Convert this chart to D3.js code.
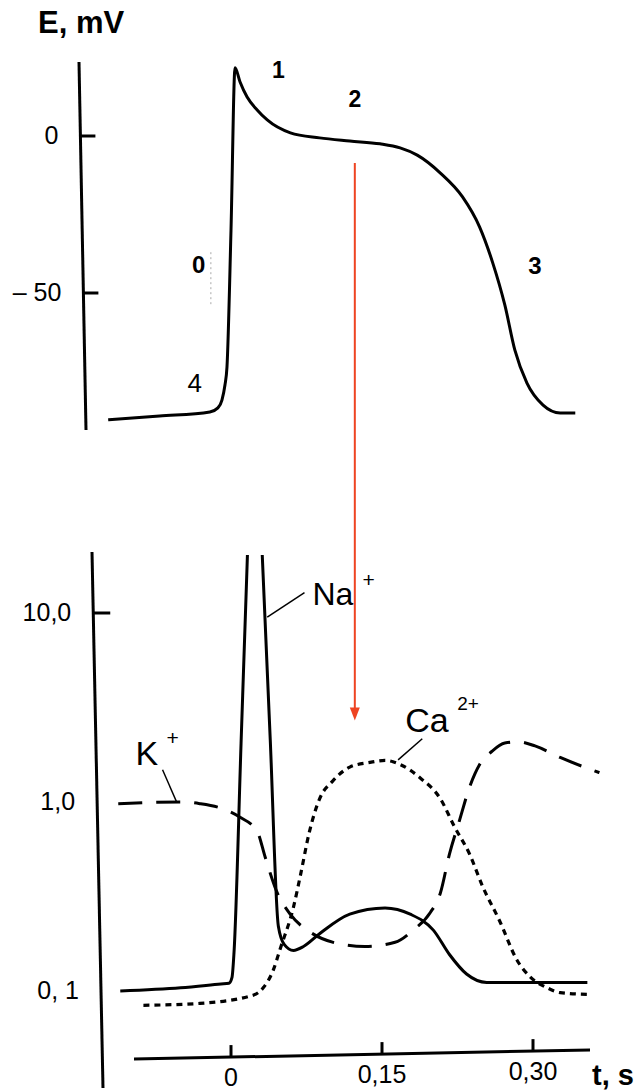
<!DOCTYPE html>
<html>
<head>
<meta charset="utf-8">
<script src="https://cdn.jsdelivr.net/npm/d3@7"></script>
<style>
  body { margin: 0; background: #fff; }
  svg { display: block; font-family: "Liberation Sans", Arial, sans-serif; }
</style>
</head>
<body>
<svg id="chart" width="634" height="1091"></svg>
<script>
// action potential, E in mV against t in s
const apT = [-0.122, -0.071, -0.021, -0.013, -0.009, -0.006, -0.004, 0.000, 0.004, 0.009, 0.016, 0.026, 0.036, 0.059, 0.088, 0.118, 0.148, 0.168, 0.185, 0.208, 0.230, 0.247, 0.260, 0.272, 0.282, 0.294, 0.310, 0.327, 0.342];
const apE = [-90.4, -89.2, -87.9, -86.6, -84.1, -79.3, -73.6, -30, 21.7, 17.2, 12.4, 8.3, 5.1, 1.0, -0.6, -1.6, -2.5, -3.8, -6.1, -11.8, -19.4, -29.0, -40.4, -53.8, -68.2, -78.7, -85.7, -88.2, -88.2];

// ion permeabilities (log scale)
const naT = [-0.110, -0.050, -0.010, -0.002, 0.001, 0.003, 0.010, 0.016, 0.023, 0.031, 0.039, 0.047, 0.053, 0.062, 0.072, 0.088, 0.118, 0.153, 0.178, 0.201, 0.217, 0.234, 0.254, 0.354];
const naG = [0.100, 0.104, 0.109, 0.110, 0.118, 0.16, 2.05, 18, 207, 20.5, 2.13, 0.221, 0.176, 0.164, 0.172, 0.201, 0.255, 0.275, 0.255, 0.21, 0.156, 0.123, 0.111, 0.111];

const kT = [-0.112, -0.048, -0.031, -0.008, 0.009, 0.026, 0.034, 0.045, 0.059, 0.078, 0.103, 0.133, 0.163, 0.181, 0.198, 0.208, 0.217, 0.227, 0.237, 0.247, 0.259, 0.272, 0.286, 0.302, 0.327, 0.366];
const kG = [0.98, 1.0, 0.98, 0.92, 0.83, 0.70, 0.51, 0.34, 0.254, 0.206, 0.18, 0.172, 0.181, 0.21, 0.26, 0.33, 0.53, 0.80, 1.2, 1.58, 1.85, 2.05, 2.08, 1.98, 1.72, 1.43];

const caT = [-0.087, -0.031, 0.022, 0.032, 0.042, 0.049, 0.062, 0.069, 0.078, 0.088, 0.101, 0.118, 0.138, 0.153, 0.168, 0.188, 0.208, 0.222, 0.237, 0.250, 0.267, 0.284, 0.297, 0.314, 0.327, 0.354];
const caG = [0.084, 0.086, 0.095, 0.104, 0.129, 0.168, 0.277, 0.41, 0.70, 1.04, 1.29, 1.53, 1.62, 1.66, 1.58, 1.34, 1.04, 0.74, 0.53, 0.357, 0.234, 0.146, 0.119, 0.104, 0.098, 0.096];

const mvTicks = [0, -50];
const gTicks = [10, 1, 0.1];
const gTickLabels = ['10,0', '1,0', '0, 1'];
const tTicks = [0, 0.15, 0.30];

const svg = d3.select('#chart');

const x = d3.scaleLinear().domain([0, 0.3]).range([231, 533]);
const yE = d3.scaleLinear().domain([-50, 0]).range([293, 136]);
const yG = d3.scaleLog().domain([0.1, 10]).range([991, 613]);

// the hand drawn axes lean a little
const eAxisLine = [[79, 62], [86, 430]];
const gAxisLine = [[92, 552], [103, 1088]];
const tAxisLine = [[134, 1059], [590, 1050]];
const xAt = (l, y) => l[0][0] + (l[1][0] - l[0][0]) * (y - l[0][1]) / (l[1][1] - l[0][1]);
const yAt = (l, xx) => l[0][1] + (l[1][1] - l[0][1]) * (xx - l[0][0]) / (l[1][0] - l[0][0]);

const drawLine = l => svg.append('line')
  .attr('x1', l[0][0]).attr('y1', l[0][1])
  .attr('x2', l[1][0]).attr('y2', l[1][1])
  .attr('stroke', '#000').attr('stroke-width', 3);

drawLine(eAxisLine);
drawLine(gAxisLine);
drawLine(tAxisLine);

// E axis
const eAxis = svg.append('g')
  .call(d3.axisLeft(yE).tickValues(mvTicks).tickSize(-15).tickPadding(22)
    .tickFormat(d => d === 0 ? '0' : '– ' + Math.abs(d)));
eAxis.attr('font-size', 25).attr('font-family', null);
eAxis.select('.domain').remove();
eAxis.selectAll('.tick').attr('transform', d => `translate(${xAt(eAxisLine, yE(d))},${yE(d)})`);
eAxis.selectAll('line').attr('stroke-width', 3);

// G axis
const gAxis = svg.append('g')
  .call(d3.axisLeft(yG).tickValues(gTicks).tickSize(-17).tickPadding(22)
    .tickFormat((d, i) => gTickLabels[i]));
gAxis.attr('font-size', 25).attr('font-family', null);
gAxis.select('.domain').remove();
gAxis.selectAll('.tick').attr('transform', d => `translate(${xAt(gAxisLine, yG(d))},${yG(d)})`);
gAxis.selectAll('line').attr('stroke-width', 3).attr('opacity', d => d === 10 ? 1 : 0);

// t axis
const tAxis = svg.append('g')
  .call(d3.axisBottom(x).tickValues(tTicks).tickSize(-12).tickPadding(11)
    .tickFormat(d => d === 0 ? '0' : d.toFixed(2).replace('.', ',')));
tAxis.attr('font-size', 25).attr('font-family', null);
tAxis.select('.domain').remove();
tAxis.selectAll('.tick').attr('transform', d => `translate(${x(d)},${yAt(tAxisLine, x(d))})`);
tAxis.selectAll('line').attr('stroke-width', 3);

// axis titles
svg.append('text').attr('x', 38).attr('y', 33)
  .attr('font-size', 31).attr('font-weight', 700).text('E, mV');
svg.append('text').attr('x', 592).attr('y', 1085)
  .attr('font-size', 29).attr('font-weight', 700).text('t, s');

// action potential
const apLine = d3.line().x(d => x(d[0])).y(d => yE(d[1])).curve(d3.curveMonotoneX);
svg.append('path').datum(d3.zip(apT, apE))
  .attr('d', apLine).attr('fill', 'none').attr('stroke', '#000').attr('stroke-width', 3);

// faint scan mark beside phase 0
svg.append('line')
  .attr('x1', x(-0.020)).attr('x2', x(-0.020))
  .attr('y1', yE(-37)).attr('y2', yE(-54))
  .attr('stroke', '#aaa').attr('stroke-width', 1).attr('stroke-dasharray', '2 3');

// phase numbers
const phase = (t, e, s, bold, size) => svg.append('text')
  .attr('x', x(t)).attr('y', yE(e)).attr('text-anchor', 'middle')
  .attr('font-size', size).attr('font-weight', bold ? 700 : 400).text(s);
phase(-0.032, -43.6, '0', true, 24);
phase(0.047, 18.5, '1', true, 23);
phase(0.123, 9.2, '2', true, 23);
phase(0.302, -43.9, '3', true, 24);
phase(-0.036, -81.5, '4', false, 26);

// ion curves
svg.append('clipPath').attr('id', 'gClip')
  .append('rect').attr('x', 0).attr('y', 555).attr('width', 634).attr('height', 536);

const gLine = d3.line().x(d => x(d[0])).y(d => yG(d[1])).curve(d3.curveMonotoneX);
const ions = svg.append('g').attr('clip-path', 'url(#gClip)');

ions.append('path').datum(d3.zip(naT, naG))
  .attr('d', gLine).attr('fill', 'none').attr('stroke', '#000').attr('stroke-width', 3);
ions.append('path').datum(d3.zip(kT, kG))
  .attr('d', gLine).attr('fill', 'none').attr('stroke', '#000').attr('stroke-width', 3)
  .attr('stroke-dasharray', '24 14');
ions.append('path').datum(d3.zip(caT, caG))
  .attr('d', gLine).attr('fill', 'none').attr('stroke', '#000').attr('stroke-width', 3.2)
  .attr('stroke-dasharray', '6 5');

// labels with leader lines
const leader = (a, b) => svg.append('line')
  .attr('x1', x(a[0])).attr('y1', yG(a[1]))
  .attr('x2', x(b[0])).attr('y2', yG(b[1]))
  .attr('stroke', '#000').attr('stroke-width', 1.5);
const label = (px, py, s, size) => svg.append('text')
  .attr('x', px).attr('y', py).attr('font-size', size).text(s);

leader([0.036, 9.5], [0.073, 12.8]);
label(x(0.073) + 8, yG(12.8) + 12, 'Na', 32);
label(x(0.073) + 58, yG(12.8) - 6, '+', 21);

leader([-0.054, 1.0], [-0.068, 1.48]);
label(x(-0.068) - 27, yG(1.48) - 5, 'K', 34);
label(x(-0.068) + 4, yG(1.48) - 25, '+', 21);

leader([0.166, 1.67], [0.190, 2.16]);
label(x(0.190) - 17, yG(2.16) - 7, 'Ca', 34);
label(x(0.190) + 35, yG(2.16) - 29, '2+', 19);

// red arrow from the plateau down to the permeability panel
const arrowX = x(0.123);
const arrowTop = yE(-8.6);
const arrowTip = yG(2.7);
svg.append('line')
  .attr('x1', arrowX).attr('x2', arrowX)
  .attr('y1', arrowTop).attr('y2', arrowTip - 10)
  .attr('stroke', '#ee4422').attr('stroke-width', 2);
svg.append('path')
  .attr('d', `M${arrowX - 5},${arrowTip - 13}L${arrowX + 5},${arrowTip - 13}L${arrowX},${arrowTip}Z`)
  .attr('fill', '#ee4422');
</script>
</body>
</html>
